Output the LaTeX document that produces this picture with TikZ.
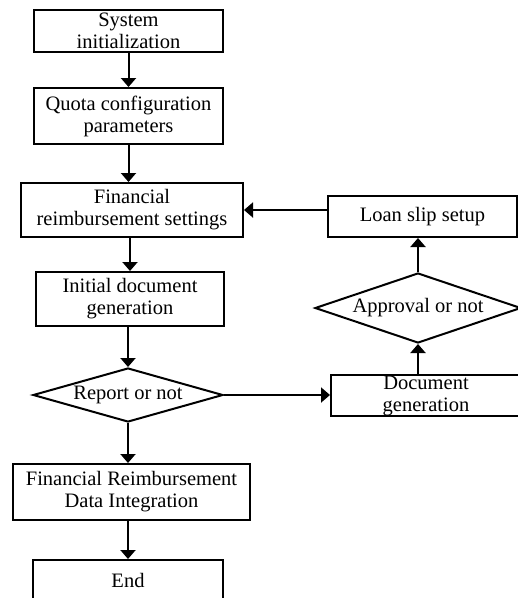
\documentclass[tikz,border=0pt]{standalone}
\usepackage{fontspec}
\setmainfont{Liberation Serif}
\usetikzlibrary{arrows.meta,shapes.geometric}

\begin{document}
\begin{tikzpicture}[x=1pt,y=-1pt,
  every node/.style={font=\fontsize{20.5}{22}\selectfont, align=center, inner sep=0pt},
  procbox/.style={draw, line width=2pt, rectangle},
  decision/.style={draw, line width=2pt, diamond, aspect=3.5},
  flow/.style={line width=2pt, -{Triangle[length=9pt,width=15pt]}}]
\useasboundingbox (0,0) rectangle (518,598);

% main column
\node[procbox, minimum width=189pt, minimum height=42pt] (init) at (128.5,31) {System\\initialization};
\node[procbox, minimum width=189pt, minimum height=56pt] (quota) at (128.5,116) {Quota configuration\\parameters};
\node[procbox, minimum width=222pt, minimum height=54pt] (fin) at (132,210) {Financial\\reimbursement settings};
\node[procbox, minimum width=188pt, minimum height=54pt] (initdoc) at (130,299) {Initial document\\generation};
\node[decision, minimum width=190pt, minimum height=54pt] (report) at (128,395) {Report or not};
\node[procbox, minimum width=237pt, minimum height=56pt] (data) at (131.5,492) {Financial Reimbursement\\Data Integration};
\node[procbox, minimum width=190pt, minimum height=41pt] (end) at (128,580.5) {End};

% loan branch
\node[procbox, minimum width=190pt, minimum height=41pt] (docgen) at (426,395.5) {Document\\generation};
\node[decision, minimum width=206pt, minimum height=70pt] (approve) at (418,308) {Approval or not};
\node[procbox, minimum width=189pt, minimum height=41pt] (loan) at (422.5,216.5) {Loan slip setup};

% connectors
\draw[flow] (init.south) -- (quota.north);
\draw[flow] (quota.south) -- (quota.south |- fin.north);
\draw[flow] (initdoc.north |- fin.south) -- (initdoc.north);
\draw[flow] (report.north |- initdoc.south) -- (report.north);
\draw[flow] (report.south) -- (report.south |- data.north);
\draw[flow] (end.north |- data.south) -- (end.north);
\draw[flow] (report.east) -- (report.east -| docgen.west);
\draw[flow] (approve.south |- docgen.north) -- (approve.south);
\draw[flow] (approve.north) -- (approve.north |- loan.south);
\draw[flow] (loan.west |- fin.east) -- (fin.east);
\end{tikzpicture}
\end{document}
